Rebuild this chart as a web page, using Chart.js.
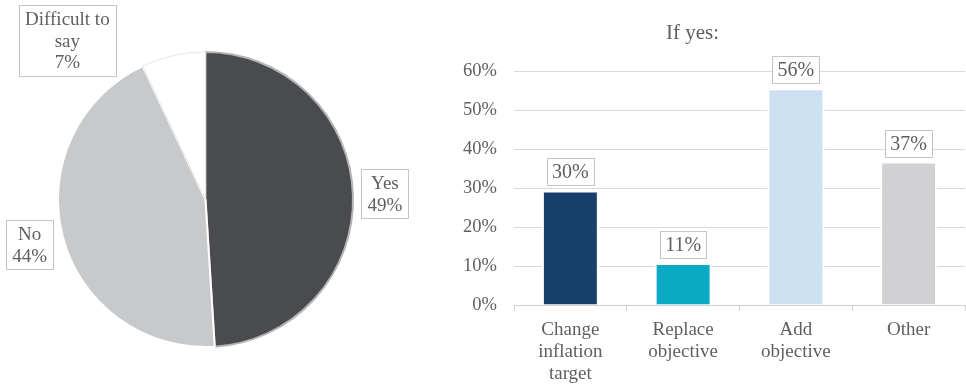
<!DOCTYPE html>
<html><head><meta charset="utf-8">
<script src="https://cdn.jsdelivr.net/npm/chart.js@4"></script>
<style>
html,body{margin:0;padding:0;background:#fff;}
#wrap{position:relative;width:966px;height:384px;overflow:hidden;background:#fff;}
#pie{position:absolute;left:0;top:0;}
#bar{position:absolute;left:420px;top:0;}
</style></head><body>
<div id="wrap"><canvas id="pie" width="420" height="384"></canvas><canvas id="bar" width="546" height="384"></canvas></div>
<script>
// ---- data ----
const pieCategories = [['Yes'], ['No'], ['Difficult to', 'say']];
const pieValues = [49, 44, 7];
const barCategories = [['Change', 'inflation', 'target'], ['Replace', 'objective'], ['Add', 'objective'], ['Other']];
const barValues = [29.4, 10.8, 55.6, 36.8];
const barLabels = ['30%', '11%', '56%', '37%'];
const yTickValues = [0, 10, 20, 30, 40, 50, 60];

// ---- styles ----
const FONT = 'Liberation Serif';
const TXT = '#5f5f5f';
const pieColors = ['#4a4b4e', '#c8c9cb', '#ffffff'];
const pieBorders = ['#b4b4b4', '#ffffff', '#e6e6e6'];
const barColors = ['#17406d', '#0aaac4', '#cde0f1', '#d1d1d3'];

function drawBox(ctx, cx, cy, lines, fontSize, lh, padX, padY) {
  ctx.save();
  ctx.font = fontSize + 'px "' + FONT + '"';
  let w = 0;
  lines.forEach(l => { w = Math.max(w, ctx.measureText(l).width); });
  const bw = Math.round(w + 2 * padX), bh = Math.round(lines.length * lh + 2 * padY);
  const x0 = Math.round(cx - bw / 2) + 0.5, y0 = Math.round(cy - bh / 2) + 0.5;
  ctx.fillStyle = '#ffffff';
  ctx.fillRect(x0, y0, bw, bh);
  ctx.strokeStyle = '#c4c4c4';
  ctx.lineWidth = 1;
  ctx.strokeRect(x0, y0, bw, bh);
  ctx.fillStyle = TXT;
  ctx.textAlign = 'center';
  ctx.textBaseline = 'middle';
  lines.forEach((l, i) => {
    ctx.fillText(l, cx, y0 + padY + lh * i + lh / 2 + 1);
  });
  ctx.restore();
}

const pieLabelPlugin = {
  id: 'pieLabels',
  afterDatasetsDraw(chart) {
    const ctx = chart.ctx;
    const meta = chart.getDatasetMeta(0);
    const nudge = [[0, 0], [-2, 0], [-99, 16]];
    meta.data.forEach((arc, i) => {
      const mid = (arc.startAngle + arc.endAngle) / 2;
      const d = arc.outerRadius + 32;
      const x = arc.x + Math.cos(mid) * d + nudge[i][0];
      const y = arc.y + Math.sin(mid) * d + nudge[i][1];
      const lines = [...pieCategories[i], pieValues[i] + '%'];
      drawBox(ctx, x, y, lines, 19, 21.5, 6, 3);
    });
  }
};

const barLabelPlugin = {
  id: 'barLabels',
  afterDatasetsDraw(chart) {
    const ctx = chart.ctx;
    const meta = chart.getDatasetMeta(0);
    meta.data.forEach((bar, i) => {
      const bh = 27;
      const cy = bar.y + 2 - 7 - bh / 2;
      drawBox(ctx, bar.x, cy, [barLabels[i]], 20, 20, 5.2, 3.5);
    });
  }
};

new Chart(document.getElementById('pie'), {
  type: 'pie',
  data: {
    labels: pieCategories.map(c => c.join(' ')),
    datasets: [{
      data: pieValues,
      backgroundColor: pieColors,
      borderColor: pieBorders,
      borderWidth: [2, 2, 1]
    }]
  },
  options: {
    responsive: false,
    animation: false,
    devicePixelRatio: 1,
    layout: { padding: { left: 57, right: 66, top: 51, bottom: 36 } },
    plugins: { legend: { display: false }, tooltip: { enabled: false } }
  },
  plugins: [pieLabelPlugin]
});

new Chart(document.getElementById('bar'), {
  type: 'bar',
  data: {
    labels: barCategories,
    datasets: [{
      data: barValues,
      backgroundColor: barColors,
      borderColor: '#ffffff',
      borderWidth: 2,
      borderSkipped: 'bottom',
      categoryPercentage: 1,
      barPercentage: 0.505
    }]
  },
  options: {
    responsive: false,
    animation: false,
    devicePixelRatio: 1,
    layout: { padding: { left: 0, right: 1, top: 0, bottom: 0 } },
    plugins: {
      legend: { display: false },
      tooltip: { enabled: false },
      title: {
        display: true,
        text: 'If yes:',
        color: TXT,
        font: { family: FONT, size: 21, weight: 'normal' },
        padding: { top: 21, bottom: 25 }
      }
    },
    scales: {
      y: {
        min: 0, max: 60,
        afterBuildTicks(s) { s.ticks = yTickValues.map(v => ({ value: v })); },
        ticks: { callback: v => v + '%', color: TXT, font: { family: FONT, size: 18.5 }, padding: 17 },
        grid: { color: '#d9d9d9', drawTicks: false, lineWidth: 1 },
        border: { display: false },
        afterFit(s) { s.width = 94; }
      },
      x: {
        grid: { offset: true, drawOnChartArea: false, drawTicks: true, tickLength: 6, color: '#d0d0d0' },
        border: { display: true, color: '#d0d0d0' },
        ticks: { color: TXT, font: { family: FONT, size: 19, lineHeight: 1.15 }, padding: 8, maxRotation: 0, autoSkip: false },
        afterFit(s) { s.height = 79; }
      }
    }
  },
  plugins: [barLabelPlugin]
});
</script>
</body></html>
